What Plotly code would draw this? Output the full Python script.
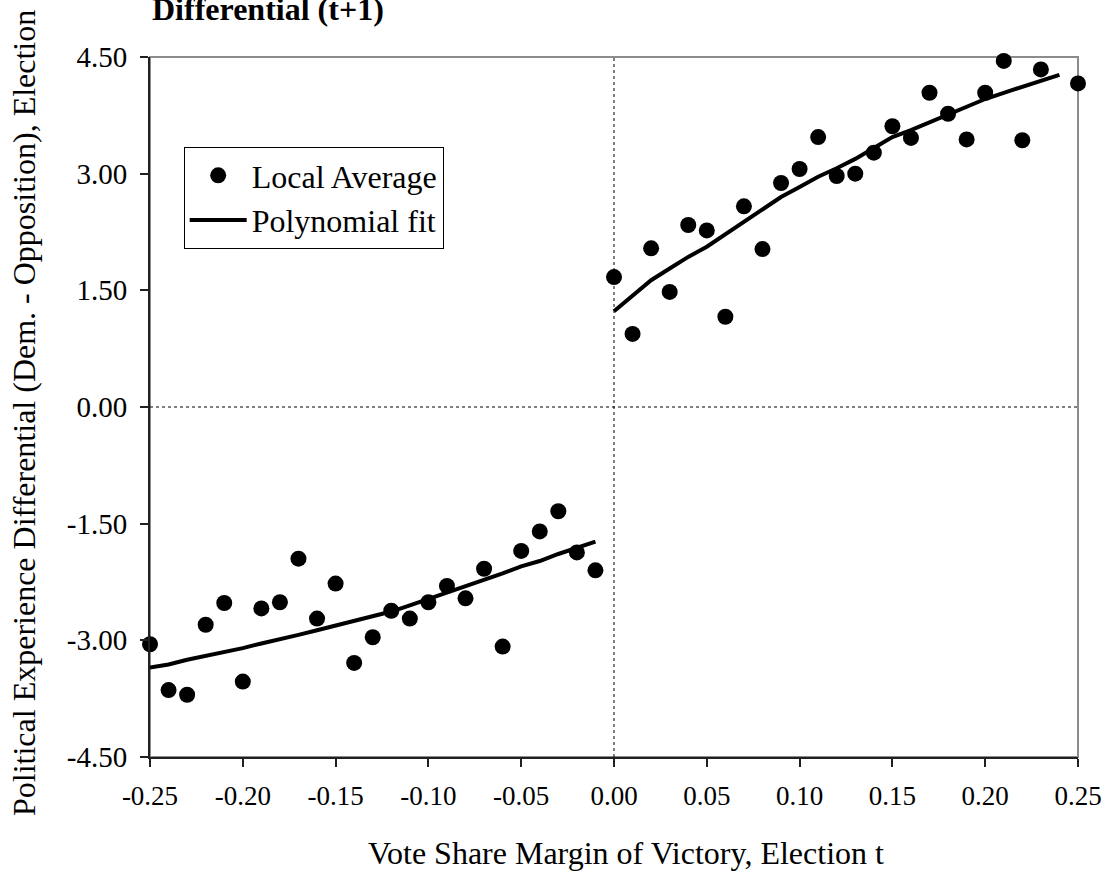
import plotly.graph_objects as go

# Local averages of the experience differential, by vote-share margin bin
x_left = [-0.25, -0.24, -0.23, -0.22, -0.21, -0.20, -0.19, -0.18, -0.17, -0.16,
          -0.15, -0.14, -0.13, -0.12, -0.11, -0.10, -0.09, -0.08, -0.07, -0.06,
          -0.05, -0.04, -0.03, -0.02, -0.01]
avg_left = [-3.05, -3.64, -3.70, -2.80, -2.52, -3.53, -2.59, -2.51, -1.95, -2.72,
            -2.27, -3.29, -2.96, -2.62, -2.72, -2.51, -2.30, -2.46, -2.08, -3.08,
            -1.85, -1.60, -1.34, -1.87, -2.10]
fit_left = [-3.35, -3.31, -3.25, -3.20, -3.16, -3.10, -3.04, -2.99, -2.93, -2.87,
            -2.81, -2.75, -2.69, -2.63, -2.55, -2.47, -2.39, -2.30, -2.22, -2.14,
            -2.05, -1.98, -1.89, -1.81, -1.73]

x_right_avg = [0.00, 0.01, 0.02, 0.03, 0.04, 0.05, 0.06, 0.07, 0.08, 0.09,
               0.10, 0.11, 0.12, 0.13, 0.14, 0.15, 0.16, 0.17, 0.18, 0.19,
               0.20, 0.21, 0.22, 0.23, 0.25]
avg_right = [1.67, 0.94, 2.04, 1.48, 2.34, 2.27, 1.16, 2.58, 2.03, 2.88,
             3.06, 3.47, 2.97, 3.00, 3.27, 3.61, 3.46, 4.04, 3.77, 3.44,
             4.04, 4.45, 3.43, 4.34, 4.16]
x_right_fit = [0.00, 0.01, 0.02, 0.03, 0.04, 0.05, 0.06, 0.07, 0.08, 0.09,
               0.10, 0.11, 0.12, 0.13, 0.14, 0.15, 0.16, 0.17, 0.18, 0.19,
               0.20, 0.21, 0.22, 0.23, 0.24]
fit_right = [1.23, 1.43, 1.63, 1.78, 1.93, 2.06, 2.22, 2.37, 2.54, 2.70,
             2.83, 2.96, 3.07, 3.19, 3.33, 3.47, 3.56, 3.66, 3.75, 3.86,
             3.96, 4.04, 4.12, 4.19, 4.27]

x_ticks = [-0.25, -0.20, -0.15, -0.10, -0.05, 0.00, 0.05, 0.10, 0.15, 0.20, 0.25]
y_ticks = [-4.5, -3.0, -1.5, 0.0, 1.5, 3.0, 4.5]

FONT = "Liberation Serif"

fig = go.Figure()

dot = dict(color="black", size=16)
fig.add_trace(go.Scatter(x=x_left, y=avg_left, mode="markers", marker=dot,
                         name="Local Average", legendgroup="avg", cliponaxis=False))
fig.add_trace(go.Scatter(x=x_right_avg, y=avg_right, mode="markers", marker=dot,
                         name="Local Average", legendgroup="avg", showlegend=False,
                         cliponaxis=False))
fig.add_trace(go.Scatter(x=x_left, y=fit_left, mode="lines",
                         line=dict(color="black", width=4),
                         name="Polynomial fit", legendgroup="fit", cliponaxis=False))
fig.add_trace(go.Scatter(x=x_right_fit, y=fit_right, mode="lines",
                         line=dict(color="black", width=4),
                         name="Polynomial fit", legendgroup="fit", showlegend=False,
                         cliponaxis=False))

# plot-area frame (gray) and dotted reference lines at zero
fig.add_shape(type="rect", xref="paper", yref="paper", x0=0, x1=1, y0=0, y1=1,
              line=dict(color="#8c8c8c", width=2), layer="below")
fig.add_shape(type="line", xref="x", yref="paper", x0=0, x1=0, y0=0, y1=1,
              line=dict(color="black", width=1, dash="dot"), layer="below")
fig.add_shape(type="line", xref="paper", yref="y", x0=0, x1=1, y0=0, y1=0,
              line=dict(color="black", width=1, dash="dot"), layer="below")

fig.update_xaxes(range=[-0.25, 0.25], tickvals=x_ticks,
                 ticktext=[f"{v:.2f}" for v in x_ticks],
                 showgrid=False, zeroline=False, showline=True,
                 linecolor="#202020", linewidth=2,
                 ticks="outside", ticklen=8, tickcolor="#202020", tickwidth=1.5,
                 ticklabelstandoff=6,
                 tickfont=dict(family=FONT, size=27, color="black"))
fig.update_yaxes(range=[-4.5, 4.5], tickvals=y_ticks,
                 ticktext=[f"{v:.2f}" for v in y_ticks],
                 showgrid=False, zeroline=False, showline=True,
                 linecolor="#202020", linewidth=2,
                 ticks="outside", ticklen=8, tickcolor="#202020", tickwidth=1.5,
                 ticklabelstandoff=7,
                 tickfont=dict(family=FONT, size=29, color="black"))

fig.add_annotation(text="Vote Share Margin of Victory, Election t",
                   xref="paper", yref="paper", x=0.5, y=0, xshift=12, yshift=-96,
                   xanchor="center", yanchor="middle", showarrow=False,
                   font=dict(family=FONT, size=32, color="black"))
fig.add_annotation(text="Political Experience Differential (Dem. - Opposition), Election",
                   xref="paper", yref="paper", x=0, y=0.5, xshift=-126, yshift=-6,
                   xanchor="center", yanchor="middle", textangle=-90, showarrow=False,
                   font=dict(family=FONT, size=32, color="black"))
fig.add_annotation(text="<b>Differential (t+1)</b>",
                   xref="paper", yref="paper", x=0, y=1, xshift=0, yshift=28,
                   xanchor="left", yanchor="bottom", showarrow=False,
                   font=dict(family=FONT, size=32, color="black"))

fig.update_layout(
    width=1114, height=873,
    margin=dict(l=150, r=27, t=57, b=116),
    paper_bgcolor="white", plot_bgcolor="white",
    font=dict(family=FONT, color="black"),
    showlegend=True,
    legend=dict(x=34 / 937, y=1 - 90 / 700, xanchor="left", yanchor="top",
                bgcolor="white", bordercolor="black", borderwidth=1,
                itemwidth=57, tracegroupgap=0,
                font=dict(family=FONT, size=32, color="black")),
)

fig.write_html("out.html")
